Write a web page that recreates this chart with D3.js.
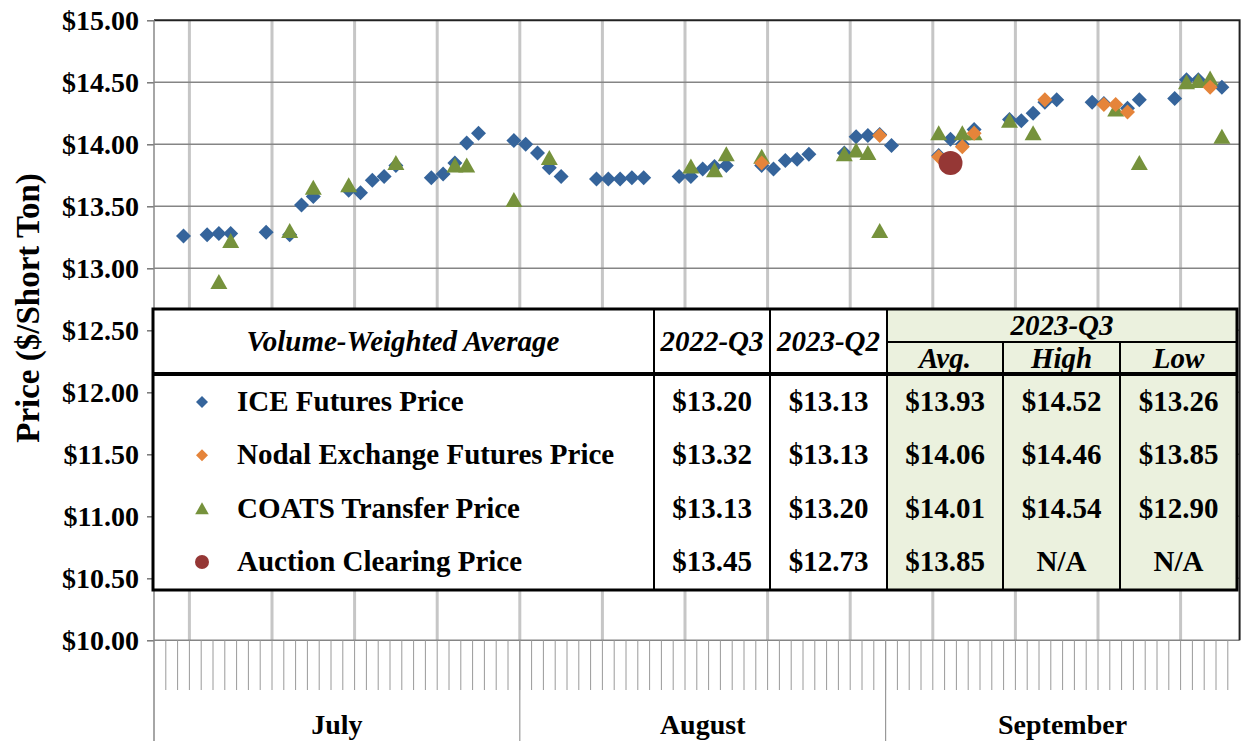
<!DOCTYPE html>
<html>
<head>
<meta charset="utf-8">
<script src="https://cdn.jsdelivr.net/npm/d3@7"></script>
<style>
  body { margin: 0; background: #fff; }
  svg { display: block; font-family: "Liberation Serif", "Times New Roman", serif; font-weight: bold; }
</style>
</head>
<body>
<svg id="chart" width="1241" height="741"></svg>
<script>
// daily prices (date, $/short ton)
var icePrices = [
  ["2023-07-03",13.26],["2023-07-05",13.27],["2023-07-06",13.28],["2023-07-07",13.28],["2023-07-10",13.29],
  ["2023-07-12",13.27],["2023-07-13",13.51],["2023-07-14",13.58],["2023-07-17",13.63],["2023-07-18",13.61],
  ["2023-07-19",13.71],["2023-07-20",13.74],["2023-07-21",13.83],["2023-07-24",13.73],["2023-07-25",13.76],
  ["2023-07-26",13.85],["2023-07-27",14.01],["2023-07-28",14.09],["2023-07-31",14.03],
  ["2023-08-01",14.00],["2023-08-02",13.93],["2023-08-03",13.81],["2023-08-04",13.74],["2023-08-07",13.72],
  ["2023-08-08",13.72],["2023-08-09",13.72],["2023-08-10",13.73],["2023-08-11",13.73],["2023-08-14",13.74],
  ["2023-08-15",13.74],["2023-08-16",13.80],["2023-08-17",13.82],["2023-08-18",13.83],["2023-08-21",13.83],
  ["2023-08-22",13.80],["2023-08-23",13.87],["2023-08-24",13.88],["2023-08-25",13.92],["2023-08-28",13.93],
  ["2023-08-29",14.06],["2023-08-30",14.07],["2023-08-31",14.08],
  ["2023-09-01",13.99],["2023-09-05",13.91],["2023-09-06",14.04],["2023-09-07",14.00],["2023-09-08",14.12],
  ["2023-09-11",14.20],["2023-09-12",14.19],["2023-09-13",14.25],["2023-09-14",14.34],["2023-09-15",14.36],
  ["2023-09-18",14.34],["2023-09-19",14.33],["2023-09-21",14.29],["2023-09-22",14.36],["2023-09-25",14.37],
  ["2023-09-26",14.52],["2023-09-27",14.52],["2023-09-29",14.46]
];
var nodalPrices = [
  ["2023-08-21",13.85],["2023-08-31",14.07],["2023-09-05",13.90],["2023-09-07",13.98],["2023-09-08",14.09],
  ["2023-09-14",14.36],["2023-09-19",14.32],["2023-09-20",14.32],["2023-09-21",14.26],["2023-09-28",14.46]
];
var coatsPrices = [
  ["2023-07-06",12.89],["2023-07-07",13.22],["2023-07-12",13.30],["2023-07-14",13.65],["2023-07-17",13.67],
  ["2023-07-21",13.85],["2023-07-26",13.83],["2023-07-27",13.83],["2023-07-31",13.55],
  ["2023-08-03",13.89],["2023-08-15",13.82],["2023-08-17",13.79],["2023-08-18",13.92],["2023-08-21",13.90],
  ["2023-08-28",13.92],["2023-08-29",13.95],["2023-08-30",13.93],["2023-08-31",13.30],
  ["2023-09-05",14.09],["2023-09-07",14.09],["2023-09-08",14.09],["2023-09-11",14.19],["2023-09-13",14.09],
  ["2023-09-20",14.28],["2023-09-22",13.85],["2023-09-26",14.50],["2023-09-27",14.51],["2023-09-28",14.53],
  ["2023-09-29",14.06]
];
var auctionPrices = [["2023-09-06",13.85]];

// summary table
var seriesNames = ["ICE Futures Price", "Nodal Exchange Futures Price", "COATS Transfer Price", "Auction Clearing Price"];
var avg2022Q3 = [13.20, 13.32, 13.13, 13.45];
var avg2023Q2 = [13.13, 13.13, 13.20, 12.73];
var avg2023Q3 = [13.93, 14.06, 14.01, 13.85];
var high2023Q3 = [14.52, 14.46, 14.54, null];
var low2023Q3 = [13.26, 13.85, 12.90, null];
var months = ["July", "August", "September"];

var svg = d3.select("#chart");
// note: "top" is reserved on window, so plot edges get their own names
var pL = 154, pR = 1239.6, pT = 20.3, pB = 640.3;

var key = d3.timeFormat("%Y-%m-%d");
var days = d3.timeDay.range(new Date(2023, 6, 1), new Date(2023, 9, 1));

var x = d3.scaleBand().domain(days.map(key)).range([pL, pR]).padding(0);
var y = d3.scaleLinear().domain([10, 15]).range([pB, pT]);
var xc = function(d) { return x(d) + x.bandwidth() / 2; };
var money = d3.format("$.2f");

// weekly gridlines (start of each Tuesday)
svg.append("g").selectAll("line")
  .data(d3.timeTuesday.range(days[0], new Date(2023, 9, 1)))
  .join("line")
  .attr("x1", function(d) { return x(key(d)); }).attr("x2", function(d) { return x(key(d)); })
  .attr("y1", pT).attr("y2", pB)
  .attr("stroke", "#c6c6c6").attr("stroke-width", 3);

// horizontal gridlines
svg.append("g").selectAll("line")
  .data(d3.range(10, 15, 0.5))
  .join("line")
  .attr("x1", pL).attr("x2", pR)
  .attr("y1", function(d) { return y(d); }).attr("y2", function(d) { return y(d); })
  .attr("stroke", "#858585").attr("stroke-width", 1.6);

// plot border top/right
svg.append("path")
  .attr("d", "M" + pL + "," + pT + "H" + pR + "V" + pB)
  .attr("fill", "none").attr("stroke", "#222").attr("stroke-width", 2);

// y axis
var yAxis = svg.append("g")
  .attr("transform", "translate(" + pL + ",0)")
  .call(d3.axisLeft(y).tickValues(d3.range(10, 15.01, 0.5)).tickFormat(money).tickSize(7).tickPadding(8));
yAxis.select(".domain").remove();
yAxis.selectAll(".tick line").attr("stroke", "#777").attr("stroke-width", 1.5);
yAxis.selectAll(".tick text").attr("font-size", 28).attr("font-weight", "bold")
  .attr("font-family", "Liberation Serif, Times New Roman, serif").attr("fill", "#000");
svg.append("line").attr("x1", pL).attr("x2", pL).attr("y1", pT).attr("y2", 741)
  .attr("stroke", "#888").attr("stroke-width", 1.5);

svg.append("text")
  .attr("transform", "translate(39,308) rotate(-90)")
  .attr("text-anchor", "middle").attr("font-size", 33)
  .text("Price ($/Short Ton)");

// day ticks under the plot
svg.append("g").selectAll("line")
  .data(days.slice(1))
  .join("line")
  .attr("x1", function(d) { return x(key(d)); }).attr("x2", function(d) { return x(key(d)); })
  .attr("y1", pB).attr("y2", 690)
  .attr("stroke", "#9a9a9a").attr("stroke-width", 1);

// month separators and labels
var monthStarts = d3.timeMonth.range(new Date(2023, 6, 1), new Date(2023, 9, 1));
svg.append("g").selectAll("line")
  .data(monthStarts.slice(1))
  .join("line")
  .attr("x1", function(d) { return x(key(d)); }).attr("x2", function(d) { return x(key(d)); })
  .attr("y1", pB).attr("y2", 741)
  .attr("stroke", "#999").attr("stroke-width", 1.2);
svg.append("g").selectAll("text")
  .data(monthStarts)
  .join("text")
  .attr("x", function(d, i) {
    var end = i < monthStarts.length - 1 ? x(key(monthStarts[i + 1])) : pR;
    return (x(key(d)) + end) / 2;
  })
  .attr("y", 734).attr("text-anchor", "middle").attr("font-size", 28)
  .text(function(d, i) { return months[i]; });

// marker shapes
var diamond = "M0,-7.5L7.5,0L0,7.5L-7.5,0Z";
var triangle = "M0,-8L8.5,7L-8.5,7Z";

function plot(data, path, color) {
  svg.append("g").selectAll("path")
    .data(data)
    .join("path")
    .attr("d", path)
    .attr("transform", function(d) { return "translate(" + xc(d[0]) + "," + y(d[1]) + ")"; })
    .attr("fill", color);
}
plot(icePrices, diamond, "#35649b");
plot(coatsPrices, triangle, "#76923c");
plot(nodalPrices, diamond, "#e5843a");
svg.append("g").selectAll("circle")
  .data(auctionPrices)
  .join("circle")
  .attr("cx", function(d) { return xc(d[0]); })
  .attr("cy", function(d) { return y(d[1]); })
  .attr("r", 12)
  .attr("fill", "#953735");

// table
var tL = 153, tR = 1237, tT = 309, tB = 590;
var cols = [654, 770, 887, 1003, 1120, tR];
var table = svg.append("g");
table.append("rect").attr("x", tL).attr("y", tT).attr("width", tR - tL).attr("height", tB - tT).attr("fill", "#fff");
table.append("rect").attr("x", cols[2]).attr("y", tT).attr("width", tR - cols[2]).attr("height", tB - tT).attr("fill", "#ebf1de");

[[cols[0], tT], [cols[1], tT], [cols[2], tT], [cols[3], 342], [cols[4], 342]].forEach(function(c) {
  table.append("line").attr("x1", c[0]).attr("x2", c[0]).attr("y1", c[1]).attr("y2", tB)
    .attr("stroke", "#000").attr("stroke-width", 2);
});
table.append("line").attr("x1", cols[2]).attr("x2", tR).attr("y1", 342).attr("y2", 342)
  .attr("stroke", "#000").attr("stroke-width", 2);
table.append("line").attr("x1", tL).attr("x2", tR).attr("y1", 374).attr("y2", 374)
  .attr("stroke", "#000").attr("stroke-width", 4);
table.append("rect").attr("x", tL).attr("y", tT).attr("width", tR - tL).attr("height", tB - tT)
  .attr("fill", "none").attr("stroke", "#000").attr("stroke-width", 3);

function cell(txt, cx, cy, italic, anchor) {
  table.append("text").attr("x", cx).attr("y", cy)
    .attr("text-anchor", anchor || "middle").attr("font-size", 29)
    .attr("font-style", italic ? "italic" : "normal")
    .text(txt);
}
cell("Volume-Weighted Average", 403, 351, true);
cell("2022-Q3", (cols[0] + cols[1]) / 2, 351, true);
cell("2023-Q2", (cols[1] + cols[2]) / 2, 351, true);
cell("2023-Q3", (cols[2] + tR) / 2, 335, true);
cell("Avg.", (cols[2] + cols[3]) / 2, 368, true);
cell("High", (cols[3] + cols[4]) / 2, 368, true);
cell("Low", (cols[4] + tR) / 2, 368, true);

var rowY = d3.scaleLinear().domain([0, 3]).range([411, 571]);
var legendShapes = [diamond, diamond, triangle, null];
var legendColors = ["#35649b", "#e5843a", "#76923c", "#953735"];
seriesNames.forEach(function(name, i) {
  var by = rowY(i);
  if (legendShapes[i]) {
    table.append("path").attr("d", legendShapes[i])
      .attr("transform", "translate(202," + (by - 9) + ") scale(0.8)")
      .attr("fill", legendColors[i]);
  } else {
    table.append("circle").attr("cx", 202).attr("cy", by - 9).attr("r", 7).attr("fill", legendColors[i]);
  }
  cell(name, 237, by, false, "start");
  [avg2022Q3, avg2023Q2, avg2023Q3, high2023Q3, low2023Q3].forEach(function(arr, j) {
    var v = arr[i];
    cell(v == null ? "N/A" : money(v), (cols[j] + cols[j + 1]) / 2, by, false);
  });
});
</script>
</body>
</html>
